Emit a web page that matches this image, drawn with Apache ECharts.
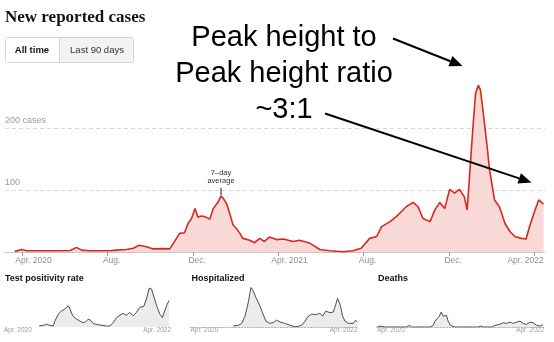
<!DOCTYPE html>
<html>
<head>
<meta charset="utf-8">
<script src="https://cdn.jsdelivr.net/npm/echarts@6/dist/echarts.min.js"></script>
<style>
  html, body { margin: 0; padding: 0; background: #fff; }
  #chart { width: 554px; height: 342px; }
</style>
</head>
<body>
<div id="chart"></div>
<script>
// New reported cases, 7-day average
const caseDates = [
  '2020-03-22','2020-04-01','2020-04-08','2020-04-17','2020-05-04','2020-05-25','2020-06-09','2020-06-18',
  '2020-06-25','2020-07-07','2020-07-21','2020-08-05','2020-08-14','2020-08-28','2020-09-07','2020-09-15',
  '2020-09-26','2020-10-05','2020-10-19','2020-10-29','2020-11-03','2020-11-12','2020-11-19','2020-11-24',
  '2020-11-29','2020-12-04','2020-12-08','2020-12-13','2020-12-18','2020-12-25','2020-12-30','2021-01-06',
  '2021-01-10','2021-01-13','2021-01-18','2021-01-23','2021-01-27','2021-02-01','2021-02-06','2021-02-10',
  '2021-02-20','2021-02-27','2021-03-06','2021-03-13','2021-03-20','2021-03-30','2021-04-09','2021-04-23',
  '2021-05-02','2021-05-17','2021-05-31','2021-06-14','2021-07-03','2021-07-17','2021-07-29','2021-08-10',
  '2021-08-20','2021-08-27','2021-09-08','2021-09-17','2021-09-24','2021-10-01','2021-10-11','2021-10-18',
  '2021-10-25','2021-11-04','2021-11-11','2021-11-18','2021-11-25','2021-12-02','2021-12-09','2021-12-16',
  '2021-12-23','2021-12-27','2021-12-31','2022-01-04','2022-01-08','2022-01-12','2022-01-15','2022-01-19',
  '2022-01-24','2022-01-28','2022-02-04','2022-02-11','2022-02-19','2022-02-26','2022-03-05','2022-03-14',
  '2022-03-21','2022-03-26','2022-04-02','2022-04-08','2022-04-12','2022-04-15'
];
const caseValues = [
  1, 4, 2, 2, 2, 2, 2.5, 7.5,
  3, 2, 2, 2, 3, 4, 6, 11,
  8.6, 5, 5.5, 5, 14, 30, 31, 46,
  54, 70, 56, 58, 57, 53, 70, 81,
  90, 87, 78, 60, 44, 38, 30, 22,
  19, 15, 22, 17, 24, 20, 21, 17,
  19, 14, 4, 2, 0.5, 2, 6, 22,
  25, 41, 49, 57, 65, 73, 80, 73,
  54, 49, 68, 80, 70, 101, 95, 101,
  89, 68, 132, 197, 256, 269, 261, 224,
  175, 132, 84, 73, 46, 33, 25, 22,
  21, 41, 65, 84, 80, 77
];

// Axis ticks
const xTickDates = ['2020-04-01','2020-08-01','2020-12-01','2021-04-01','2021-08-01','2021-12-01','2022-04-01'];
const xTickLabels = ['Apr. 2020','Aug.','Dec.','Apr. 2021','Aug.','Dec.','Apr. 2022'];
const yTicks = [100, 200];
const yTickLabels = ['100', '200 cases'];

// Small multiples
const positivityDates = [
  '2020-08-28','2020-09-15','2020-09-30','2020-10-15','2020-10-30','2020-11-07','2020-11-22','2020-12-07',
  '2020-12-22','2021-01-06','2021-01-14','2021-01-26','2021-02-13','2021-03-07','2021-03-22','2021-04-06',
  '2021-04-17','2021-04-29','2021-05-29','2021-06-28','2021-07-13','2021-07-28','2021-08-12','2021-08-27',
  '2021-09-11','2021-09-26','2021-10-11','2021-10-26','2021-11-10','2021-11-25','2021-12-13','2021-12-25',
  '2022-01-07','2022-01-17','2022-01-28','2022-02-09','2022-02-24','2022-03-07','2022-03-16','2022-03-26',
  '2022-04-06'
];
const positivityValues = [
  0.5, 0.8, 1.4, 0.8, 0.5, 3, 6.4, 8.1,
  9, 10.7, 9, 5.6, 3.9, 2.5, 2.2, 3.9,
  3.4, 1.7, 1, 0.5, 0.5, 2.2, 4.7, 5.9,
  6.8, 5.9, 7.3, 5.6, 7.3, 9.8, 10.3, 14,
  19.5, 19, 15, 10.7, 6.4, 4.7, 5.6, 10.7,
  13.2
];
const hospitalDates = [
  '2020-10-01','2020-10-24','2020-11-08','2020-11-23','2020-12-08','2020-12-20','2020-12-30','2021-01-11',
  '2021-01-26','2021-02-10','2021-02-25','2021-03-15','2021-03-30','2021-04-15','2021-04-30','2021-05-22',
  '2021-06-14','2021-07-07','2021-07-22','2021-08-06','2021-08-21','2021-09-05','2021-09-20','2021-10-12',
  '2021-10-27','2021-11-08','2021-11-23','2021-12-11','2021-12-26','2022-01-07','2022-01-15','2022-01-26',
  '2022-02-07','2022-02-17','2022-03-04','2022-03-27','2022-04-06','2022-04-15'
];
const hospitalValues = [
  1, 1.7, 3.7, 11, 25, 40, 36.6, 30,
  23, 14.6, 6, 3.7, 4.4, 7, 5, 3.7,
  1.7, 0.3, 0.7, 1.7, 6, 11, 13, 12.5,
  14, 11, 16, 14.6, 15, 23, 29, 23,
  11, 6, 3.7, 3.7, 6.8, 5
];
const deathDates = [
  '2020-03-23','2020-04-04','2020-04-27','2020-08-03','2020-08-15','2020-08-25','2020-10-24','2020-11-01',
  '2020-11-16','2020-12-01','2020-12-09','2020-12-19','2020-12-28','2021-01-06','2021-01-15','2021-01-22',
  '2021-01-30','2021-02-06','2021-02-17','2021-03-09','2021-03-31','2021-04-08','2021-04-23','2021-06-22',
  '2021-07-03','2021-07-15','2021-08-22','2021-09-06','2021-09-28','2021-10-13','2021-10-28','2021-11-12',
  '2021-11-27','2021-12-12','2021-12-27','2022-01-11','2022-01-26','2022-02-10','2022-02-25','2022-03-13',
  '2022-03-28','2022-04-11'
];
const deathValues = [
  0, 0.1, 0, 0, 0.17, 0, 0, 0.1,
  0, 0.17, 0.6, 0.85, 1.1, 1.53, 1.1, 1.3,
  1.2, 0.6, 0.17, 0, 0, 0.1, 0, 0,
  0.1, 0, 0, 0.17, 0.27, 0.44, 0.37, 0.5,
  0.37, 0.5, 0.6, 0.37, 0.27, 0.5, 0.44, 0.17,
  0.1, 0.24
];
const panelTitles = ['Test positivity rate', 'Hospitalized', 'Deaths'];
const miniTickLabels = ['Apr. 2020', 'Apr. 2022'];

// Annotation text
const noteLines = ['Peak height to', 'Peak height ratio', '~3:1'];
const avgNoteDate = '2021-01-10';
const avgNoteLines = ['7\u2013day', 'average'];

const SANS = '"Liberation Sans", Arial, Helvetica, sans-serif';
const SERIF = '"Liberation Serif", "DejaVu Serif", Georgia, serif';
const T = s => echarts.time.parse(s).getTime();
const pair = (ds, vs) => ds.map((d, i) => [T(d), vs[i]]);

const xTickTimes = xTickDates.map(T);
const miniMin = T('2020-03-22');
const miniMax = T('2022-04-15');

const panels = [
  { dates: positivityDates, values: positivityValues, max: 20,   left: 4,     dotted: false },
  { dates: hospitalDates,   values: hospitalValues,   max: 40.5, left: 190.5, dotted: true },
  { dates: deathDates,      values: deathValues,      max: 4.1,  left: 377,   dotted: true }
];

const chart = echarts.init(document.getElementById('chart'), null, { renderer: 'canvas' });

// Dates are plotted on a linear (timestamp) axis so ticks can sit on month starts.
const grids = [{ left: 5, right: 9, top: 66, height: 186 }];
const xAxes = [{
  type: 'value', gridIndex: 0,
  min: T('2020-03-08'), max: T('2022-04-17'),
  axisLine: { show: true, onZero: false, lineStyle: { color: '#c8c8c8', width: 1 } },
  axisTick: { show: true, customValues: xTickTimes, length: 4, lineStyle: { color: '#9a9a9a' } },
  axisLabel: { show: false },
  splitLine: { show: false }
}];
const yAxes = [{
  type: 'value', gridIndex: 0, min: 0, max: 300, interval: 100,
  axisLine: { show: false }, axisTick: { show: false },
  axisLabel: {
    inside: true, margin: 0, align: 'left', verticalAlign: 'bottom',
    padding: [0, 0, 3, 0], color: '#9a9a9a', fontSize: 9, fontFamily: SANS,
    showMinLabel: false, showMaxLabel: false,
    formatter: v => { const i = yTicks.indexOf(v); return i >= 0 ? yTickLabels[i] : ''; }
  },
  splitLine: { show: true, showMinLine: false, showMaxLine: false,
    lineStyle: { color: '#d9d9d9', type: [4, 3], width: 1 } }
}];
const series = [{
  type: 'line', xAxisIndex: 0, yAxisIndex: 0,
  data: pair(caseDates, caseValues),
  showSymbol: false, symbol: 'none',
  lineStyle: { color: '#d8281f', width: 1.6 },
  areaStyle: { color: '#f8d9d8', opacity: 1 },
  z: 3
}];

panels.forEach((p, k) => {
  const gi = k + 1;
  grids.push({ left: p.left, width: 167, top: 287, height: 40 });
  xAxes.push({
    type: 'value', gridIndex: gi, min: miniMin, max: miniMax,
    axisLine: { show: p.dotted, onZero: false, lineStyle: { color: '#b5b5b5', type: [1.5, 1.5], width: 1 } },
    axisTick: { show: false }, axisLabel: { show: false }, splitLine: { show: false }
  });
  yAxes.push({
    type: 'value', gridIndex: gi, min: 0, max: p.max,
    axisLine: { show: false }, axisTick: { show: false }, axisLabel: { show: false },
    splitLine: { show: false }
  });
  series.push({
    type: 'line', xAxisIndex: gi, yAxisIndex: gi,
    data: pair(p.dates, p.values),
    showSymbol: false, symbol: 'none',
    lineStyle: { color: '#4d4d4d', width: 1 },
    areaStyle: { color: '#ececec', opacity: 1 },
    z: 3
  });
});

chart.setOption({
  animation: false,
  grid: grids, xAxis: xAxes, yAxis: yAxes, series: series
});

// Overlay: headings, toggle, annotations
function arrow(x1, y1, x2, y2) {
  const a = Math.atan2(y2 - y1, x2 - x1);
  const L = 13, W = 5.5;
  const c = Math.cos(a), s = Math.sin(a);
  const bx = x2 - L * c, by = y2 - L * s;
  return [
    { type: 'line', shape: { x1, y1, x2: bx, y2: by }, style: { stroke: '#000', lineWidth: 2 }, z: 20 },
    { type: 'polygon', shape: { points: [[x2, y2], [bx + W * s, by - W * c], [bx - W * s, by + W * c]] },
      style: { fill: '#000' }, z: 20 }
  ];
}

const g = [];
g.push({ type: 'text', x: 5, y: 18,
  style: { text: 'New reported cases', font: 'bold 17px ' + SERIF, fill: '#121212',
    textVerticalAlign: 'middle' } });

// time-range toggle
g.push({ type: 'rect', shape: { x: 59.5, y: 37.5, width: 74, height: 25, r: [0, 2, 2, 0] },
  style: { fill: '#f3f3f3', stroke: '#d4d4d4', lineWidth: 1 } });
g.push({ type: 'rect', shape: { x: 5.5, y: 37.5, width: 54, height: 25, r: [2, 0, 0, 2] },
  style: { fill: '#fff', stroke: '#d4d4d4', lineWidth: 1 } });
g.push({ type: 'text', x: 32, y: 50,
  style: { text: 'All time', font: 'bold 9.5px ' + SANS, fill: '#121212',
    textAlign: 'center', textVerticalAlign: 'middle' } });
g.push({ type: 'text', x: 97, y: 50,
  style: { text: 'Last 90 days', font: '9.5px ' + SANS, fill: '#333',
    textAlign: 'center', textVerticalAlign: 'middle' } });

// date labels under the month ticks: the month word starts just left of its tick,
// the final label is pulled back to end inside the plot
const baseY = chart.convertToPixel({ xAxisIndex: 0, yAxisIndex: 0 }, [xTickTimes[0], 0])[1];
xTickTimes.forEach((t, i) => {
  const px = chart.convertToPixel({ xAxisIndex: 0, yAxisIndex: 0 }, [t, 0])[0];
  const last = i === xTickTimes.length - 1;
  g.push({ type: 'text', x: last ? px + 10 : px - (xTickLabels[i].length > 4 ? 6.5 : 4.5), y: baseY + 9,
    style: { text: xTickLabels[i], font: '8.5px ' + SANS, fill: '#8f8f8f',
      textAlign: last ? 'right' : 'left', textVerticalAlign: 'middle' } });
});

// big annotation
[38, 74, 110].forEach((y, i) => {
  g.push({ type: 'text', x: 284, y,
    style: { text: noteLines[i], font: '29px ' + SANS, fill: '#000',
      textAlign: 'center', textVerticalAlign: 'middle' }, z: 20 });
});
g.push(...arrow(393, 38.5, 462.5, 66));
g.push(...arrow(325, 113.5, 531.5, 182.5));

// 7-day average callout at the winter peak
const ai = caseDates.indexOf(avgNoteDate);
const pk = chart.convertToPixel({ xAxisIndex: 0, yAxisIndex: 0 }, [T(avgNoteDate), caseValues[ai]]);
g.push({ type: 'line', shape: { x1: pk[0], y1: pk[1] - 1, x2: pk[0], y2: pk[1] - 8.5 },
  style: { stroke: '#666', lineWidth: 1.5 }, z: 10 });
g.push({ type: 'text', x: pk[0], y: pk[1] - 23,
  style: { text: avgNoteLines[0], font: '7.5px ' + SANS, fill: '#333',
    textAlign: 'center', textVerticalAlign: 'middle' } });
g.push({ type: 'text', x: pk[0], y: pk[1] - 15,
  style: { text: avgNoteLines[1], font: '7.5px ' + SANS, fill: '#333',
    textAlign: 'center', textVerticalAlign: 'middle' } });

// small-multiple titles and end labels
panels.forEach((p, k) => {
  const gi = k + 1;
  const l = chart.convertToPixel({ xAxisIndex: gi, yAxisIndex: gi }, [miniMin, 0]);
  const r = chart.convertToPixel({ xAxisIndex: gi, yAxisIndex: gi }, [miniMax, 0]);
  g.push({ type: 'text', x: l[0] + 1, y: 279,
    style: { text: panelTitles[k], font: 'bold 9px ' + SANS, fill: '#121212',
      textVerticalAlign: 'middle' } });
  g.push({ type: 'text', x: l[0], y: l[1] + 3.5,
    style: { text: miniTickLabels[0], font: '6.5px ' + SANS, fill: '#9a9a9a',
      textAlign: 'left', textVerticalAlign: 'middle' } });
  g.push({ type: 'text', x: r[0], y: r[1] + 3.5,
    style: { text: miniTickLabels[1], font: '6.5px ' + SANS, fill: '#9a9a9a',
      textAlign: 'right', textVerticalAlign: 'middle' } });
});

chart.setOption({ graphic: g });
</script>
</body>
</html>
